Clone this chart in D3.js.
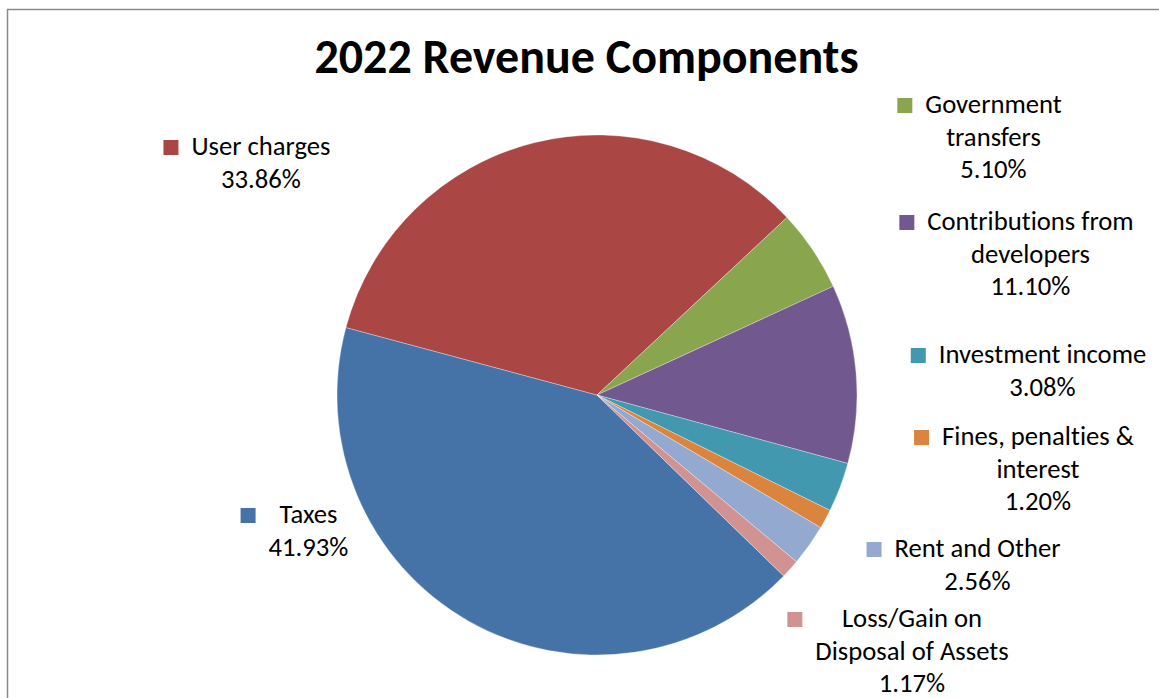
<!DOCTYPE html>
<html>
<head>
<meta charset="utf-8">
<script src="https://cdn.jsdelivr.net/npm/d3@7"></script>
<style>
  html, body { margin: 0; padding: 0; background: #ffffff; }
  svg { display: block; }
  text { font-family: Carlito, Calibri, Lato, "Open Sans", sans-serif; fill: #000; font-variant-ligatures: none; }
</style>
</head>
<body>
<svg id="chart" width="1159" height="698"></svg>
<script>
// Revenue components, in drawing order (clockwise)
const categories = [
  "Taxes",
  "User charges",
  "Government transfers",
  "Contributions from developers",
  "Investment income",
  "Fines, penalties & interest",
  "Rent and Other",
  "Loss/Gain on Disposal of Assets"
];
const shares = [41.93, 33.86, 5.10, 11.10, 3.08, 1.20, 2.56, 1.17];
const labelLines = [
  ["Taxes"],
  ["User charges"],
  ["Government", "transfers"],
  ["Contributions from", "developers"],
  ["Investment income"],
  ["Fines, penalties &", "interest"],
  ["Rent and Other"],
  ["Loss/Gain on", "Disposal of Assets"]
];
const colors = ["#4572A7", "#AA4643", "#89A54E", "#71588F", "#4198AF", "#DB843D", "#93A9CF", "#D19392"];

// label anchors: centre of the text block and baseline of its first line
const labelAnchors = [
  [308.5, 523], [261, 155], [993.5, 113], [1030.5, 230],
  [1042.5, 363], [1038, 445], [977.5, 557], [912, 627]
];

const W = 1159, H = 698;
const cx = 597, cy = 395, radius = 260;
const startDeg = 134.1;
const lineH = 32.5, keySize = 15, keyGap = 13;

const svg = d3.select("#chart");

// outer frame
svg.append("rect")
  .attr("x", 7.5).attr("y", 9.5)
  .attr("width", W).attr("height", H)
  .attr("fill", "none").attr("stroke", "#8a8a8a").attr("stroke-width", 1.5);

// title
svg.append("text")
  .attr("x", 586.5).attr("y", 73)
  .attr("text-anchor", "middle")
  .attr("font-size", 48).attr("font-weight", "bold")
  .text("2022 Revenue Components");

const data = categories.map((c, i) => ({ name: c, value: shares[i], color: colors[i], lines: labelLines[i], anchor: labelAnchors[i] }));

const start = startDeg * Math.PI / 180;
const pie = d3.pie().sort(null).value(d => d.value)
  .startAngle(start).endAngle(start + 2 * Math.PI);
const arc = d3.arc().innerRadius(0).outerRadius(radius);

svg.append("g")
  .attr("transform", `translate(${cx},${cy})`)
  .selectAll("path")
  .data(pie(data))
  .join("path")
  .attr("d", arc)
  .attr("fill", d => d.data.color)
  .attr("stroke", "rgba(255,255,255,0.45)")
  .attr("stroke-width", 0.7);

// data labels: category name, percentage, and a colour key
const fmt = d3.format(".2f");
const labels = svg.append("g").selectAll("g")
  .data(data)
  .join("g");

labels.each(function(d) {
  const g = d3.select(this);
  const [x, y] = d.anchor;
  const lines = d.lines.concat([fmt(d.value) + "%"]);
  let maxW = 0;
  lines.forEach((ln, i) => {
    const t = g.append("text")
      .attr("x", x).attr("y", y + i * lineH)
      .attr("text-anchor", "middle")
      .attr("font-size", 26.67)
      .text(ln);
    maxW = Math.max(maxW, t.node().getComputedTextLength());
  });
  g.append("rect")
    .attr("x", x - maxW / 2 - keyGap - keySize)
    .attr("y", y - keySize)
    .attr("width", keySize).attr("height", keySize)
    .attr("fill", d.color);
});
</script>
</body>
</html>
